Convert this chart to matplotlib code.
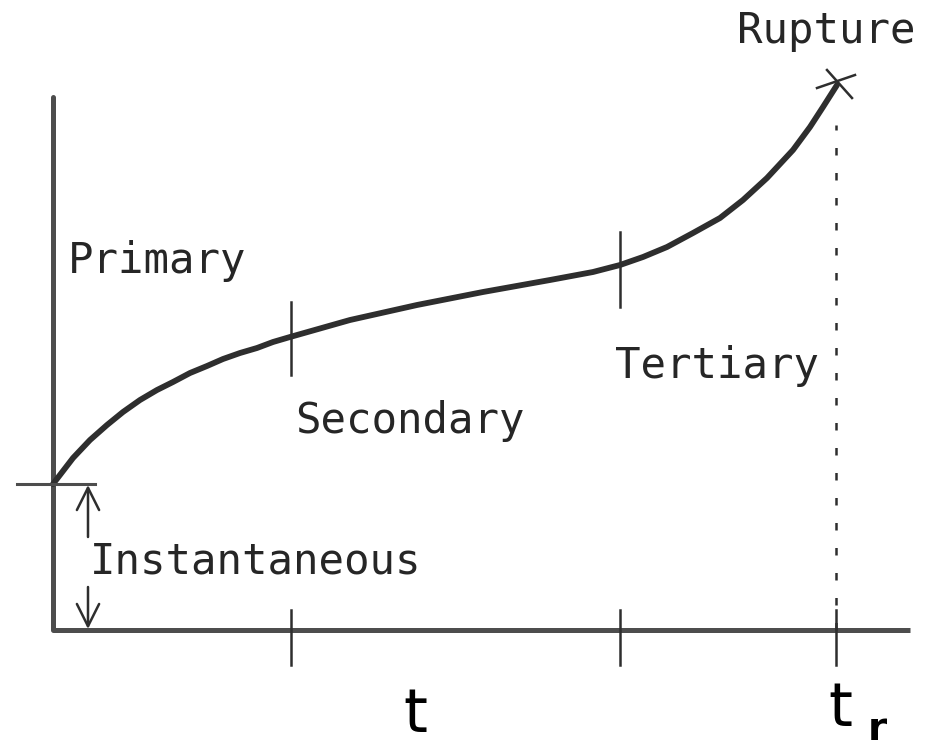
import numpy as np
import matplotlib.pyplot as plt

# creep curve (time t, strain e in drawing units)
primary_t = [0, 20, 37, 54, 70, 87, 104, 120, 137, 154, 170, 187, 204, 220, 237]
primary_e = [146, 172, 190, 205, 218, 230, 240, 248, 257, 264, 271, 277, 282, 288, 293]
secondary_t = [237, 297, 364, 430, 497, 540, 567]
secondary_e = [293, 310, 325, 338, 350, 358, 365]
tertiary_t = [567, 590, 614, 640, 667, 690, 714, 740, 757, 770, 784]
tertiary_e = [365, 373, 383, 397, 412, 430, 452, 480, 503, 523, 545]

instant_e = 146
stage_t = [238, 567, 783]          # primary/secondary, secondary/tertiary, rupture
rupture = (784, 548)
t_max = 857
e_max = 533

mono = 'DejaVu Sans Mono'
axis_col = '#4d4d4d'
curve_col = '#2e2e2e'
txt_col = '#262626'

fig = plt.figure(figsize=(9.3, 7.49), dpi=100)
ax = fig.add_axes([0, 0, 1, 1])
ax.set_xlim(-53, 877)
ax.set_ylim(-119, 630)
ax.axis('off')

# axes
ax.plot([0, 0], [0, e_max], color=axis_col, lw=3.6, solid_capstyle='round')
ax.plot([0, t_max], [0, 0], color=axis_col, lw=3.6, solid_capstyle='butt')

# curve
t_all = primary_t + secondary_t[1:] + tertiary_t[1:]
e_all = primary_e + secondary_e[1:] + tertiary_e[1:]
ax.plot(t_all, e_all, color=curve_col, lw=4.2, solid_capstyle='round',
        solid_joinstyle='round')

# stage marks on the curve
e_marks = [(255, 328), (323, 398)]
for t, (lo, hi) in zip(stage_t[:2], e_marks):
    ax.plot([t, t], [lo, hi], color=curve_col, lw=1.8)

# ticks on time axis
for t in stage_t:
    ax.plot([t, t], [-35, 20], color=curve_col, lw=1.8)

# instantaneous strain mark and arrows
ax.plot([-36, 42], [instant_e, instant_e], color=axis_col, lw=2.2)
ax.annotate('', xy=(35, instant_e - 1), xytext=(35, 93),
            arrowprops=dict(arrowstyle='->', lw=1.8, color=curve_col,
                            mutation_scale=40, shrinkA=0, shrinkB=0))
ax.annotate('', xy=(35, 1), xytext=(35, 43),
            arrowprops=dict(arrowstyle='->', lw=1.8, color=curve_col,
                            mutation_scale=40, shrinkA=0, shrinkB=0))

# rupture line and cross
ax.plot([stage_t[2], stage_t[2]], [0, 505], color=curve_col, lw=1.8,
        linestyle=(0, (3.0, 7.0)))
ax.plot([764, 802], [rupture[1] - 6, rupture[1] + 7], color=curve_col, lw=1.8)
ax.plot([774, 799], [rupture[1] + 12, rupture[1] - 16], color=curve_col, lw=1.8)

# labels
kw = dict(family=mono, fontsize=30.5, color=txt_col, va='baseline', ha='left')
ax.text(15, 357, 'Primary', **kw)
ax.text(242, 197, 'Secondary', **kw)
ax.text(562, 252, 'Tertiary', **kw)
ax.text(37, 57, 'Instantaneous', **kw)
ax.text(684, 587, 'Rupture', **kw)

ax.text(362, -102, 't', fontsize=44, color='black', ha='center', va='baseline')
ax.text(787, -96, 't', fontsize=44, color='black', ha='center', va='baseline')
ax.text(815, -110, 'r', fontsize=28, fontweight='bold', color='black',
        ha='left', va='baseline')

fig.savefig('out.png', dpi=100)
